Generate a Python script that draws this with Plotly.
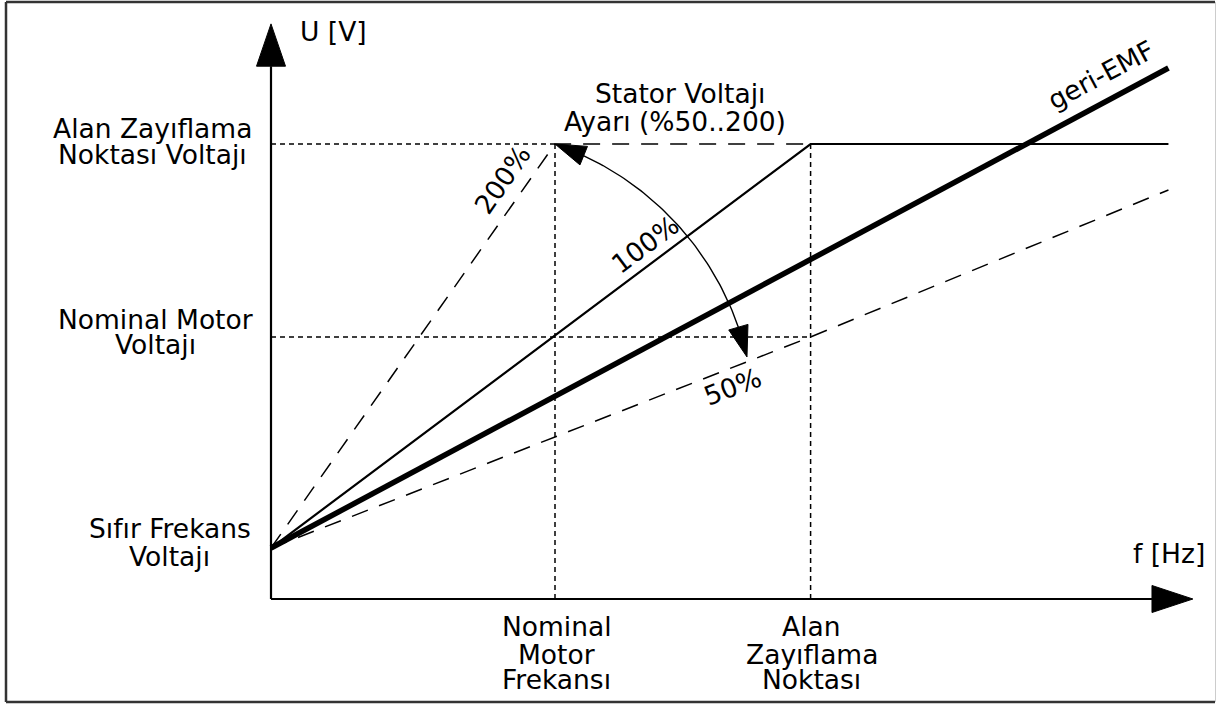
import numpy as np
import plotly.graph_objects as go

# ---- schematic values -------------------------------------------------
# frequency axis (Hz, schematic units)
f_nominal = 50.0          # nominal motor frequency
f_field_weak = 95.0       # field weakening point
f_end = 158.0             # right end of drawn curves

# voltage axis (% of field weakening point voltage)
u_zero_freq = 11.2        # zero frequency voltage
u_nominal = 57.6          # nominal motor voltage
u_field_weak = 100.0      # field weakening point voltage

# U/f curves for stator voltage setting
curve100_f = [0.0, f_field_weak, f_end]
curve100_u = [u_zero_freq, u_field_weak, u_field_weak]
curve200_f = [0.0, f_nominal, f_field_weak]
curve200_u = [u_zero_freq, u_field_weak, u_field_weak]
curve50_f = [0.0, f_field_weak, f_end]
curve50_u = [u_zero_freq, u_nominal, 89.9]
emf_f = [0.0, f_end]
emf_u = [u_zero_freq, 116.7]

# adjustment arc: start tip, middle point, end tip (f, U)
arc_f = [50.0, 73.4, 83.8]
arc_u = [100.0, 79.6, 53.2]

# axis arrow extents
u_axis_tip = 126.4
u_axis_head_base = 117.1
f_axis_tip = 162.3
f_axis_head_base = 155.1

# ---- canvas geometry ---------------------------------------------------
W, H = 1217, 704
ORIGIN_PX = (271.0, 599.0)
PX_PER_F = 5.68
PX_PER_U = 4.55

x_range = [-ORIGIN_PX[0] / PX_PER_F, (W - ORIGIN_PX[0]) / PX_PER_F]
y_range = [-(H - ORIGIN_PX[1]) / PX_PER_U, ORIGIN_PX[1] / PX_PER_U]


def to_px(f, u):
    return ORIGIN_PX[0] + f * PX_PER_F, ORIGIN_PX[1] - u * PX_PER_U


def to_data(px, py):
    return (px - ORIGIN_PX[0]) / PX_PER_F, (ORIGIN_PX[1] - py) / PX_PER_U


FONT = "DejaVu Sans"
FS = 26.5
BLACK = "#000000"

fig = go.Figure()


def line(xs, ys, width, dash="solid"):
    fig.add_trace(go.Scatter(x=xs, y=ys, mode="lines",
                             line=dict(color=BLACK, width=width, dash=dash),
                             hoverinfo="skip", showlegend=False))


def triangle(pts):
    xs = [p[0] for p in pts] + [pts[0][0]]
    ys = [p[1] for p in pts] + [pts[0][1]]
    fig.add_trace(go.Scatter(x=xs, y=ys, mode="lines", fill="toself",
                             fillcolor=BLACK, line=dict(color=BLACK, width=1),
                             hoverinfo="skip", showlegend=False))


SHORT_DASH = "5px,4px"
LONG_DASH = "17px,12px"

# reference lines
line([f_nominal, f_nominal], [0, u_field_weak], 1.5, SHORT_DASH)
line([f_field_weak, f_field_weak], [0, u_field_weak], 1.5, SHORT_DASH)
line([0, f_field_weak], [u_nominal, u_nominal], 1.5, SHORT_DASH)
line([0, f_nominal], [u_field_weak, u_field_weak], 1.5, SHORT_DASH)

# curves
line(curve200_f, curve200_u, 1.5, LONG_DASH)
line(curve50_f, curve50_u, 1.5, LONG_DASH)
line(curve100_f, curve100_u, 2.2)
line(emf_f, emf_u, 5.5)

# axes with arrow heads
line([0, 0], [0, u_axis_head_base], 2.2)
line([0, f_axis_head_base], [0, 0], 2.2)
hw_f = 14.5 / PX_PER_F
hh_u = 13.5 / PX_PER_U
triangle([(0, u_axis_tip), (-hw_f, u_axis_head_base), (hw_f, u_axis_head_base)])
triangle([(f_axis_tip, 0), (f_axis_head_base, hh_u), (f_axis_head_base, -hh_u)])

# adjustment arc through three points, with arrow heads at both ends
pa = np.array([to_px(f, u) for f, u in zip(arc_f, arc_u)])
(ax_, ay_), (bx_, by_), (cx_, cy_) = pa
d = 2 * (ax_ * (by_ - cy_) + bx_ * (cy_ - ay_) + cx_ * (ay_ - by_))
ux = ((ax_**2 + ay_**2) * (by_ - cy_) + (bx_**2 + by_**2) * (cy_ - ay_) + (cx_**2 + cy_**2) * (ay_ - by_)) / d
uy = ((ax_**2 + ay_**2) * (cx_ - bx_) + (bx_**2 + by_**2) * (ax_ - cx_) + (cx_**2 + cy_**2) * (bx_ - ax_)) / d
r = np.hypot(ax_ - ux, ay_ - uy)
t0 = np.arctan2(ay_ - uy, ax_ - ux)
t1 = np.arctan2(cy_ - uy, cx_ - ux)
head_len, head_w = 31.0, 20.0
dt = head_len / r * np.sign(t1 - t0)
ts = np.linspace(t0 + dt * 0.9, t1 - dt * 0.9, 60)
arc_px = [(ux + r * np.cos(t), uy + r * np.sin(t)) for t in ts]
arc_d = [to_data(*p) for p in arc_px]
line([p[0] for p in arc_d], [p[1] for p in arc_d], 1.4)

for tip_t, base_t in [(t0, t0 + dt), (t1, t1 - dt)]:
    tip = np.array([ux + r * np.cos(tip_t), uy + r * np.sin(tip_t)])
    base = np.array([ux + r * np.cos(base_t), uy + r * np.sin(base_t)])
    v = tip - base
    v /= np.linalg.norm(v)
    n = np.array([-v[1], v[0]])
    b1 = base + n * head_w / 2
    b2 = base - n * head_w / 2
    triangle([to_data(*tip), to_data(*b1), to_data(*b2)])

# ---- text --------------------------------------------------------------
labels = [
    ("U [V]", 11.09, 124.8, 0),
    ("f [Hz]", 158.1, 9.9, 0),
    ("Stator Voltajı", 72.0, 111.0, 0),
    ("Ayarı (%50..200)", 71.1, 105.05, 0),
    ("Alan Zayıflama", -20.86, 103.5, 0),
    ("Noktası Voltajı", -20.86, 97.8, 0),
    ("Nominal Motor", -20.42, 61.5, 0),
    ("Voltajı", -20.42, 56.0, 0),
    ("Sıfır Frekans", -17.87, 15.4, 0),
    ("Voltajı", -17.87, 9.45, 0),
    ("Nominal", 50.35, -6.15, 0),
    ("Motor", 50.35, -12.1, 0),
    ("Frekansı", 50.35, -17.6, 0),
    ("Alan", 95.2, -6.15, 0),
    ("Zayıflama", 95.2, -12.1, 0),
    ("Noktası", 95.2, -17.6, 0),
    ("200%", 40.8, 92.1, -55),
    ("100%", 65.8, 78.0, -37),
    ("50%", 81.3, 46.8, -21),
    ("geri-EMF", 146.2, 115.2, -28),
]
for text, x, y, ang in labels:
    fig.add_annotation(x=x, y=y, xref="x", yref="y", text=text, showarrow=False,
                       xanchor="center", yanchor="middle", textangle=ang,
                       font=dict(family=FONT, size=FS, color=BLACK))

# frame around the drawing
frame = dict(xref="paper", yref="paper", layer="above")
fig.add_shape(type="line", x0=6 / W, x1=6 / W, y0=1 - 2 / H, y1=1 - 702 / H,
              line=dict(color="#333333", width=2.5), **frame)
fig.add_shape(type="line", x0=6 / W, x1=1215 / W, y0=1 - 2 / H, y1=1 - 2 / H,
              line=dict(color="#333333", width=2.5), **frame)
fig.add_shape(type="line", x0=6 / W, x1=1215 / W, y0=1 - 702 / H, y1=1 - 702 / H,
              line=dict(color="#333333", width=2.5), **frame)
fig.add_shape(type="line", x0=1215.5 / W, x1=1215.5 / W, y0=1 - 2 / H, y1=1 - 702 / H,
              line=dict(color="#cccccc", width=1), **frame)

fig.update_layout(
    width=W, height=H,
    margin=dict(l=0, r=0, t=0, b=0),
    paper_bgcolor="white", plot_bgcolor="white",
    xaxis=dict(range=x_range, visible=False, fixedrange=True),
    yaxis=dict(range=y_range, visible=False, fixedrange=True),
    showlegend=False, hovermode=False,
)

fig.write_html("out.html", config={"displayModeBar": False})
